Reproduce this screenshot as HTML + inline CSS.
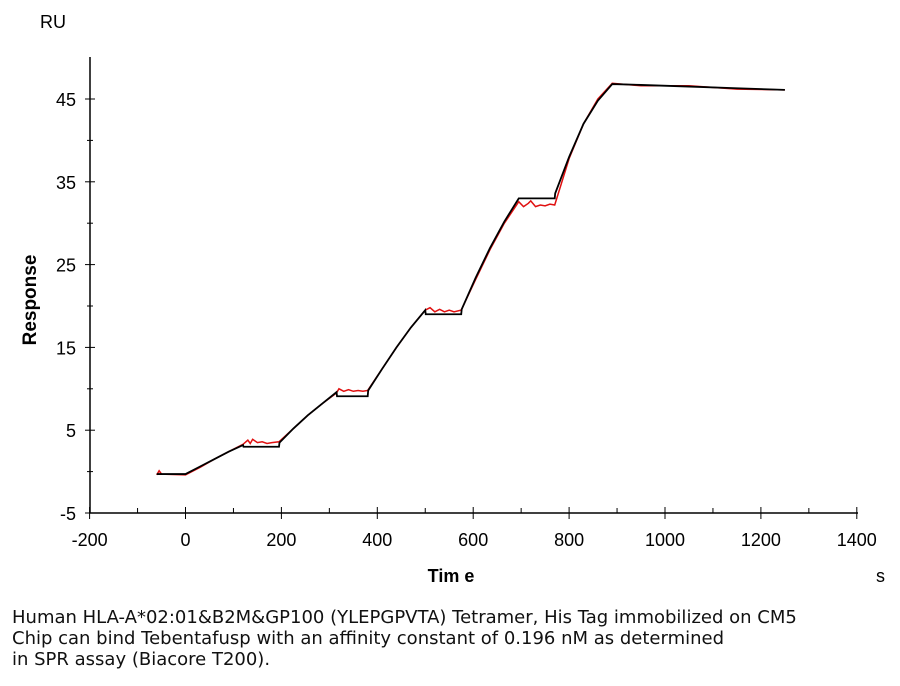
<!DOCTYPE html>
<html><head><meta charset="utf-8"><style>
body{margin:0;background:#fff;font-family:"Liberation Sans",Arial,sans-serif}
#wrap{position:relative;width:900px;height:686px}
.cap{position:absolute;left:12px;top:607px;font-family:"DejaVu Sans",sans-serif;font-size:18px;line-height:21px;color:#111;white-space:nowrap}
</style></head><body>
<div id="wrap">
<svg id="chart" width="900" height="600" style="position:absolute;left:0;top:0"></svg>
<div class="cap">Human HLA-A*02:01&amp;B2M&amp;GP100 (YLEPGPVTA) Tetramer, His Tag immobilized on CM5<br>Chip can bind Tebentafusp with an affinity constant of 0.196 nM as determined<br>in SPR assay (Biacore T200).</div>
</div>
<script>
const xTicks=[-200,0,200,400,600,800,1000,1200,1400];
const yTicks=[-5,5,15,25,35,45];
const fitT=[-60,0,30,60,90,120,121,195,196,225,255,285,315,316,380,381,410,440,470,500,501,575,576,605,635,665,695,696,770,771,800,830,860,890,950,1050,1150,1250];
const fitR=[-0.3,-0.3,0.6,1.5,2.4,3.2,3.0,3.0,3.5,5.2,6.8,8.2,9.6,9.1,9.1,9.8,12.4,15.0,17.4,19.5,19.0,19.0,19.6,23.4,27.0,30.2,33.0,33.0,33.0,33.6,38.0,42.0,44.8,46.8,46.7,46.5,46.3,46.1];
const dataT=[-60,-55,-50,0,30,60,90,120,130,135,140,150,160,170,180,195,225,255,285,315,320,330,340,350,360,370,380,410,440,470,500,510,520,530,540,550,560,575,605,635,665,695,705,715,720,730,740,750,760,770,800,830,860,890,950,1050,1150,1250];
const dataR=[-0.4,0.1,-0.3,-0.4,0.5,1.5,2.4,3.3,3.8,3.4,3.9,3.5,3.6,3.4,3.5,3.6,5.2,6.8,8.2,9.5,10.0,9.7,9.9,9.7,9.8,9.7,9.8,12.4,15.0,17.4,19.5,19.8,19.3,19.6,19.3,19.5,19.3,19.5,23.2,26.8,30.0,32.6,32.0,32.4,32.7,32.0,32.2,32.1,32.3,32.2,37.8,42.0,45.0,46.9,46.6,46.6,46.2,46.1];
const svg=document.getElementById('chart');
const NS='http://www.w3.org/2000/svg';
const X=v=>185.5+v*0.4795, Y=v=>513-(v+5)*8.28;
function el(t,a,name){const e=document.createElementNS(NS,t);for(const k in a)e.setAttribute(k,a[k]);


svg.appendChild(e);return e;}
el('line',{x1:90,y1:57,x2:90,y2:513,stroke:'#000','stroke-width':1.5},'y-axis-line');
el('line',{x1:90,y1:513,x2:858,y2:513,stroke:'#000','stroke-width':1.5},'x-axis-line');
for(let v=-200;v<=1400;v+=100){const maj=v%200===0;el('line',{x1:X(v),x2:X(v),y1:maj?507:508,y2:maj?519:513,stroke:'#000'},'x-tick');}
xTicks.forEach(v=>{const t=el('text',{x:X(v),y:546,'text-anchor':'middle','font-size':18},'x-tick-label');t.textContent=v;});
for(let v=-5;v<=45;v+=5){const maj=(v+5)%10===0;el('line',{x1:maj?85:87,x2:maj?95:93,y1:Y(v),y2:Y(v),stroke:'#000'},'y-tick');}
yTicks.forEach(v=>{const t=el('text',{x:76,y:Y(v)+7,'text-anchor':'end','font-size':18},'y-tick-label');t.textContent=v;});
let t=el('text',{x:40,y:28,'font-size':18},'y-unit-label');t.textContent='RU';
t=el('text',{x:451,y:582,'text-anchor':'middle','font-size':18,'font-weight':'bold'},'x-axis-title');t.textContent='Tim e';
t=el('text',{x:876,y:582,'font-size':18},'x-unit-label');t.textContent='s';
t=el('text',{x:36,y:300,'text-anchor':'middle','font-size':19,'font-weight':'bold',transform:'rotate(-90 36 300)'},'y-axis-title');t.textContent='Response';
el('polyline',{points:dataT.map((v,i)=>X(v)+','+Y(dataR[i])).join(' '),fill:'none',stroke:'#e01010','stroke-width':1.5},'measured-curve');
el('polyline',{points:fitT.map((v,i)=>X(v)+','+Y(fitR[i])).join(' '),fill:'none',stroke:'#000','stroke-width':1.8},'fit-curve');
</script>
</body></html>
